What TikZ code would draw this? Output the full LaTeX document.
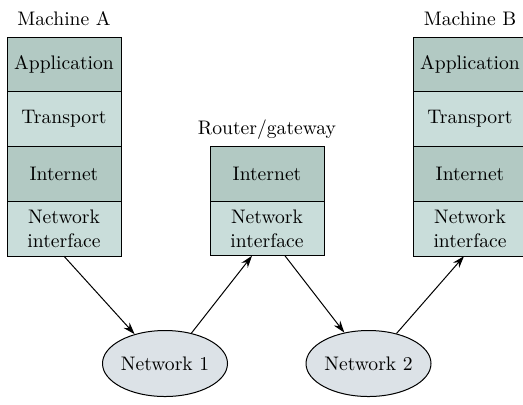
\documentclass[tikz,border=0pt]{standalone}
\usetikzlibrary{arrows.meta,positioning,shapes.geometric}
\definecolor{layerdark}{RGB}{178,201,195}
\definecolor{layerlight}{RGB}{201,221,218}
\definecolor{netfill}{RGB}{220,226,231}

\begin{document}
\begin{tikzpicture}[x=0.5pt,y=-0.5pt,line width=0.5pt,>={Stealth[length=6pt,width=4pt]},
  font=\fontsize{9.8}{12}\selectfont,
  layer/.style={draw,rectangle,minimum width=57pt,minimum height=27.4pt,inner sep=0pt,outer sep=0pt,align=center},
  darkrow/.style={layer,fill=layerdark},
  lightrow/.style={layer,fill=layerlight},
  netcloud/.style={draw,ellipse,fill=netfill,minimum width=62.5pt,minimum height=33pt,inner sep=0pt},
  caption/.style={anchor=base,inner sep=0pt}]
\useasboundingbox (0,0) rectangle (523,404);
% machine A
\node[darkrow] (appA) at (64,64.4) {Application};
\node[lightrow,below=0pt of appA] (transA) {Transport};
\node[darkrow,below=0pt of transA] (inetA) {Internet};
\node[lightrow,below=0pt of inetA] (netA) {Network\\interface};
\node[caption] (labA) at ([yshift=6pt]appA.north) {Machine A};
% router in the middle
\node[darkrow] (inetR) at (267,173.6) {Internet};
\node[lightrow,below=0pt of inetR] (netR) {Network\\interface};
\node[caption] (labR) at ([yshift=6pt]inetR.north) {Router/gateway};
% machine B (cut at the right edge)
\node[darkrow] (appB) at (470,64.4) {Application};
\node[lightrow,below=0pt of appB] (transB) {Transport};
\node[darkrow,below=0pt of transB] (inetB) {Internet};
\node[lightrow,below=0pt of inetB] (netB) {Network\\interface};
\node[caption] (labB) at ([yshift=6pt]appB.north) {Machine B};
% the two networks
\node[netcloud] (net1) at (165,363.5) {Network 1};
\node[netcloud] (net2) at (368.5,363.5) {Network 2};
% path of the data
\draw[->] (netA.south) -- (net1.136);
\draw[->] (net1.49) -- ([xshift=-7.5pt]netR.south);
\draw[->] ([xshift=9pt]netR.south) -- (net2.128);
\draw[->] (net2.47) -- ([xshift=-3pt]netB.south);
\end{tikzpicture}
\end{document}
